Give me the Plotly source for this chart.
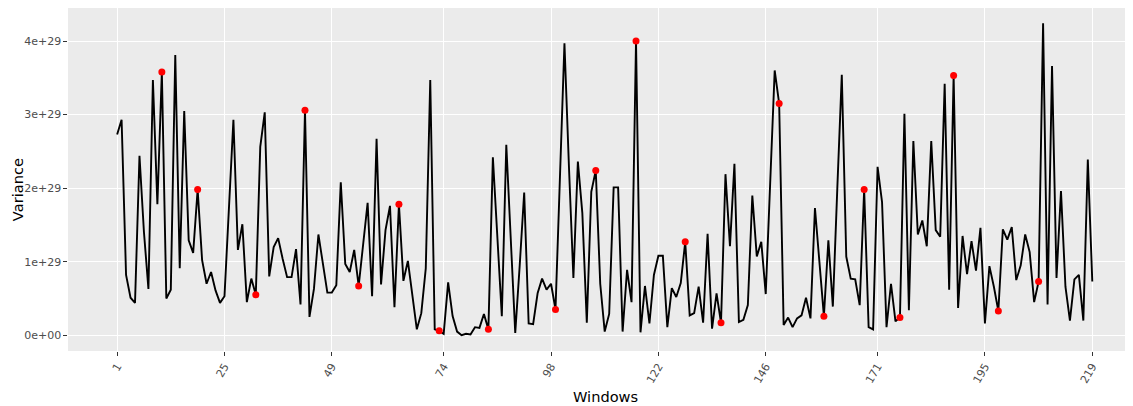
import plotly.graph_objects as go

# Window index (1..219)
windows = list(range(1, 220))

# Variance values, in units of 1e29
variance_e29 = [
    2.73, 2.93, 0.82, 0.51, 0.44, 2.44, 1.40, 0.63, 3.47, 1.78,
    3.58, 0.50, 0.62, 3.81, 0.91, 3.05, 1.29, 1.12, 1.98, 1.02,
    0.70, 0.86, 0.61, 0.44, 0.53, 1.75, 2.93, 1.16, 1.51, 0.45,
    0.77, 0.55, 2.56, 3.03, 0.80, 1.20, 1.32, 1.04, 0.79, 0.79,
    1.17, 0.42, 3.06, 0.25, 0.63, 1.37, 0.98, 0.58, 0.58, 0.68,
    2.08, 0.97, 0.86, 1.16, 0.67, 1.25, 1.80, 0.53, 2.67, 0.69,
    1.43, 1.76, 0.38, 1.78, 0.74, 1.01, 0.54, 0.08, 0.30, 0.91,
    3.47, 0.08, 0.06, 0.02, 0.72, 0.26, 0.05, 0.00, 0.02, 0.01,
    0.11, 0.10, 0.29, 0.08, 2.42, 1.30, 0.26, 2.59, 1.20, 0.03,
    0.95, 1.94, 0.16, 0.15, 0.57, 0.77, 0.62, 0.70, 0.35, 2.20,
    3.97, 2.30, 0.78, 2.36, 1.66, 0.17, 1.95, 2.24, 0.70, 0.05,
    0.29, 2.01, 2.01, 0.05, 0.89, 0.45, 4.00, 0.04, 0.67, 0.16,
    0.82, 1.08, 1.08, 0.11, 0.64, 0.52, 0.71, 1.27, 0.27, 0.30,
    0.66, 0.17, 1.38, 0.09, 0.57, 0.17, 2.19, 1.21, 2.33, 0.18,
    0.21, 0.41, 1.90, 1.07, 1.27, 0.56, 2.10, 3.60, 3.15, 0.14,
    0.24, 0.11, 0.23, 0.27, 0.51, 0.23, 1.73, 1.00, 0.26, 1.29,
    0.39, 2.00, 3.54, 1.07, 0.77, 0.76, 0.41, 1.98, 0.11, 0.08,
    2.29, 1.81, 0.11, 0.70, 0.19, 0.24, 3.01, 0.34, 2.64, 1.37,
    1.56, 1.21, 2.64, 1.43, 1.34, 3.42, 0.62, 3.53, 0.37, 1.35,
    0.83, 1.28, 0.88, 1.46, 0.16, 0.94, 0.66, 0.33, 1.44, 1.30,
    1.47, 0.75, 0.95, 1.37, 1.13, 0.45, 0.73, 4.24, 0.42, 3.66,
    0.78, 1.96, 0.66, 0.20, 0.76, 0.82, 0.20, 2.39, 0.73,
]

# Highlighted windows (red points)
highlight_windows = [11, 19, 32, 43, 55, 64, 73, 84, 99, 108,
                     117, 128, 136, 149, 159, 168, 176, 188, 198, 207]

# Axis ticks
x_tickvals = [1, 25, 49, 74, 98, 122, 146, 171, 195, 219]
y_tickvals_e29 = [0, 1, 2, 3, 4]
y_ticktext = ["0e+00", "1e+29", "2e+29", "3e+29", "4e+29"]

SCALE = 1e29
variance = [v * SCALE for v in variance_e29]
hl_values = [variance[w - 1] for w in highlight_windows]

FONT = "DejaVu Sans"
# page body has an 8px margin, so the figure is drawn 8px right/down
W, H = 1125, 398
ML, MR, MT, MB = 60, 0, 0, 55.3
PW, PH = W - ML - MR, H - MT - MB

fig = go.Figure()
fig.add_trace(go.Scatter(
    x=windows, y=variance, mode="lines",
    line=dict(color="black", width=1.9),
    showlegend=False, hoverinfo="x+y",
))
fig.add_trace(go.Scatter(
    x=highlight_windows, y=hl_values, mode="markers",
    marker=dict(color="red", size=7, line=dict(width=0)),
    showlegend=False, hoverinfo="x+y",
))

fig.update_layout(
    width=W, height=H,
    margin=dict(l=ML, r=MR, t=MT, b=MB, pad=0, autoexpand=False),
    paper_bgcolor="white",
    plot_bgcolor="#EBEBEB",
    font=dict(family=FONT, color="black"),
    showlegend=False,
    annotations=[
        dict(text="Windows", xref="paper", yref="paper",
             x=(597 - ML) / PW, y=-(388 - (H - MB)) / PH,
             xanchor="center", yanchor="middle", showarrow=False,
             font=dict(family=FONT, size=14.6, color="black")),
        dict(text="Variance", xref="paper", yref="paper",
             x=-(ML - 9) / PW, y=((H - MB) - 182) / PH,
             xanchor="center", yanchor="middle", textangle=-90, showarrow=False,
             font=dict(family=FONT, size=14.6, color="black")),
    ],
)
fig.update_xaxes(
    range=[-9.98, 228.1], automargin=False,
    tickmode="array", tickvals=x_tickvals,
    ticktext=[str(t) for t in x_tickvals],
    tickangle=-60,
    tickfont=dict(family=FONT, size=11, color="rgba(77,77,77,1)"),
    ticks="outside", ticklen=3.65, tickwidth=0.66, tickcolor="rgba(51,51,51,1)",
    showgrid=True, gridcolor="white", gridwidth=1.3,
    zeroline=False, showline=False,
)
fig.update_yaxes(
    range=[-0.214 * SCALE, 4.449 * SCALE], automargin=False,
    tickmode="array", tickvals=[t * SCALE for t in y_tickvals_e29],
    ticktext=y_ticktext,
    tickfont=dict(family=FONT, size=11, color="rgba(77,77,77,1)"),
    ticks="outside", ticklen=3.65, tickwidth=0.66, tickcolor="rgba(51,51,51,1)",
    showgrid=True, gridcolor="white", gridwidth=1.3,
    zeroline=False, showline=False,
)

fig.write_html("out.html")
